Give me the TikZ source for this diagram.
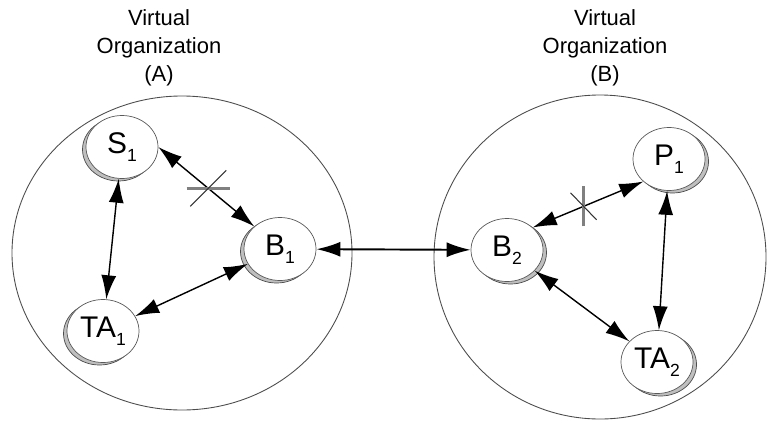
\documentclass[tikz,border=0pt]{standalone}
\usepackage{fontspec}
\setmainfont{Liberation Sans}
\usetikzlibrary{shapes.geometric,shadows,arrows.meta}
\newcommand{\lowsub}[1]{\raisebox{-0.5ex}{\fontsize{10}{10}\selectfont #1}}
\tikzset{
  agent/.style={
    shape = ellipse,
    draw = gray!70!black,
    fill = white,
    line width = 0.4pt,
    inner sep = 0pt,
    minimum width = 1.44cm,
    minimum height = 1.26cm,
    font = \fontsize{17}{17}\selectfont
  },
  agentL/.style={
    agent,
    drop shadow = {shadow xshift=-0.07cm, shadow yshift=-0.05cm,
      fill=gray!50, draw=gray!60!black, opacity=1}
  },
  agentR/.style={
    agent,
    drop shadow = {shadow xshift=0.07cm, shadow yshift=-0.05cm,
      fill=gray!50, draw=gray!60!black, opacity=1}
  },
  org/.style={
    draw = gray!60!black,
    line width = 0.5pt
  },
  link/.style={
    >={Latex[length=0.48cm,width=0.3cm]},
    <->,
    line width = 0.8pt
  },
  cutbar/.style={
    draw = gray,
    line width = 1.6pt
  },
  cutline/.style={
    draw = black!80,
    line width = 0.6pt
  },
  title/.style={
    align = center,
    font = \fontsize{12.5}{16}\selectfont
  }
}

\begin{document}
\begin{tikzpicture}
  \useasboundingbox (0,0) rectangle (15.34,8.42);
  % organizations
  \draw[org] (3.64,3.36) ellipse [x radius=3.40, y radius=3.14];
  \draw[org] (12.00,3.28) ellipse [x radius=3.32, y radius=3.24];
  \node[title] (titleA) at (3.18,7.46) {Virtual\\Organization\\(A)};
  \node[title] (titleB) at (12.10,7.46) {Virtual\\Organization\\(B)};
  % agents
  \node[agentL] (s1) at (2.44,5.48) {S\lowsub{1}};
  \node[agentL] (ta1) at (2.06,1.80) {TA\lowsub{1}};
  \node[agentL] (b1) at (5.60,3.44) {B\lowsub{1}};
  \node[agentR] (b2) at (10.14,3.42) {B\lowsub{2}};
  \node[agentR] (p1) at (13.38,5.24) {P\lowsub{1}};
  \node[agentR] (ta2) at (13.14,1.18) {TA\lowsub{2}};
  % links
  \draw[link] (s1) -- (ta1);
  \draw[link] (ta1) -- (b1);
  \draw[link] (s1.east) -- coordinate[pos=0.52] (cutA) (b1.north west);
  \draw[link, line width=1.1pt] (b1) -- (b2);
  \draw[link] (b2.north east) -- coordinate[pos=0.46] (cutB) (p1.south west);
  \draw[link] (b2) -- (ta2);
  \draw[link] (p1) -- (ta2);
  % cut marks
  \draw[cutbar] ([xshift=-0.43cm]cutA) -- ([xshift=0.43cm]cutA);
  \draw[cutline] ([shift={(-0.36,-0.36)}]cutA) -- ([shift={(0.36,0.36)}]cutA);
  \draw[cutbar] ([yshift=-0.40cm]cutB) -- ([yshift=0.40cm]cutB);
  \draw[cutline] ([shift={(-0.26,0.27)}]cutB) -- ([shift={(0.26,-0.27)}]cutB);
\end{tikzpicture}
\end{document}
